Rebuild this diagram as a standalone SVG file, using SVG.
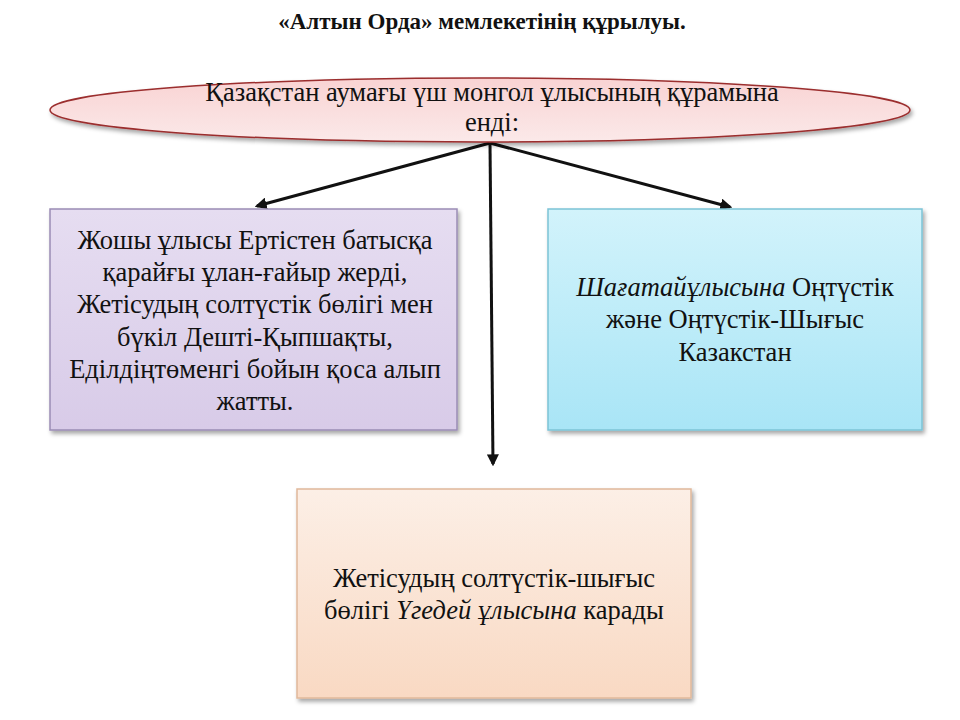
<svg xmlns="http://www.w3.org/2000/svg" width="960" height="720" viewBox="0 0 960 720">
<style>
text{font-family:"Liberation Serif","DejaVu Serif",serif;fill:#111;}
.t{font-size:26.5px;text-anchor:middle;}
.box{stroke-width:1.5;}
.con{stroke:#111;stroke-width:3;fill:none;marker-end:url(#ah);}
</style>
<defs>
<marker id="ah" viewBox="0 0 10 10" refX="8" refY="5" markerWidth="4" markerHeight="4" orient="auto"><path d="M0,0L10,5L0,10z" fill="#111"/></marker>
<linearGradient id="gp" x1="0" y1="0" x2="0" y2="1"><stop offset="0" stop-color="#f9d3d3"/><stop offset="1" stop-color="#fbe9e9"/></linearGradient>
<linearGradient id="gl" x1="0" y1="0" x2="0" y2="1"><stop offset="0" stop-color="#e6ddf1"/><stop offset="1" stop-color="#d8cbe8"/></linearGradient>
<linearGradient id="gb" x1="0" y1="0" x2="0" y2="1"><stop offset="0" stop-color="#d2f3fb"/><stop offset="1" stop-color="#a9e5f6"/></linearGradient>
<linearGradient id="go" x1="0" y1="0" x2="0" y2="1"><stop offset="0" stop-color="#fcefe6"/><stop offset="1" stop-color="#f9d9c3"/></linearGradient>
<filter id="sh" x="-5%" y="-5%" width="115%" height="120%"><feDropShadow dx="2" dy="3" stdDeviation="2" flood-color="#000" flood-opacity="0.35"/></filter>
</defs>
<rect width="960" height="720" fill="#fff"/>
<text x="482" y="29" text-anchor="middle" font-weight="bold" font-size="23">«Алтын Орда» мемлекетінің құрылуы.</text>
<g id="connectors">
<line class="con" x1="490" y1="143" x2="257" y2="206"/>
<line class="con" x1="490" y1="143" x2="730" y2="207"/>
<line class="con" x1="490" y1="143" x2="493" y2="464"/>
</g>
<g id="top">
<ellipse cx="480" cy="110" rx="430" ry="32" fill="url(#gp)" stroke="#9b2d2d" stroke-width="1.5" filter="url(#sh)"/>
<text class="t" x="492" y="101">Қазақстан аумағы үш монгол ұлысының құрамына</text>
<text class="t" x="492" y="131">енді:</text>
</g>
<g id="left">
<rect class="box" x="50" y="209" width="407" height="221" fill="url(#gl)" stroke="#9a8cb5" filter="url(#sh)"/>
<text class="t" x="255" y="249">Жошы ұлысы Ертістен батысқа</text>
<text class="t" x="255" y="281">қарайғы ұлан-ғайыр жерді,</text>
<text class="t" x="255" y="313">Жетісудың солтүстік бөлігі мен</text>
<text class="t" x="255" y="346">бүкіл Дешті-Қыпшақты,</text>
<text class="t" x="255" y="378">Еділдіңтөменгі бойын қоса алып</text>
<text class="t" x="255" y="410">жатты.</text>
</g>
<g id="right">
<rect class="box" x="548" y="209" width="374" height="221" fill="url(#gb)" stroke="#7cc3d6" filter="url(#sh)"/>
<text class="t" x="735" y="296"><tspan font-style="italic">Шағатайұлысына</tspan> Оңтүстік</text>
<text class="t" x="735" y="328">және Оңтүстік-Шығыс</text>
<text class="t" x="735" y="361">Казакстан</text>
</g>
<g id="bottom">
<rect class="box" x="297" y="489" width="394" height="209" fill="url(#go)" stroke="#e0b89a" filter="url(#sh)"/>
<text class="t" x="494" y="587">Жетісудың солтүстік-шығыс</text>
<text class="t" x="494" y="619">бөлігі <tspan font-style="italic">Үгедей ұлысына</tspan> карады</text>
</g>
</svg>
